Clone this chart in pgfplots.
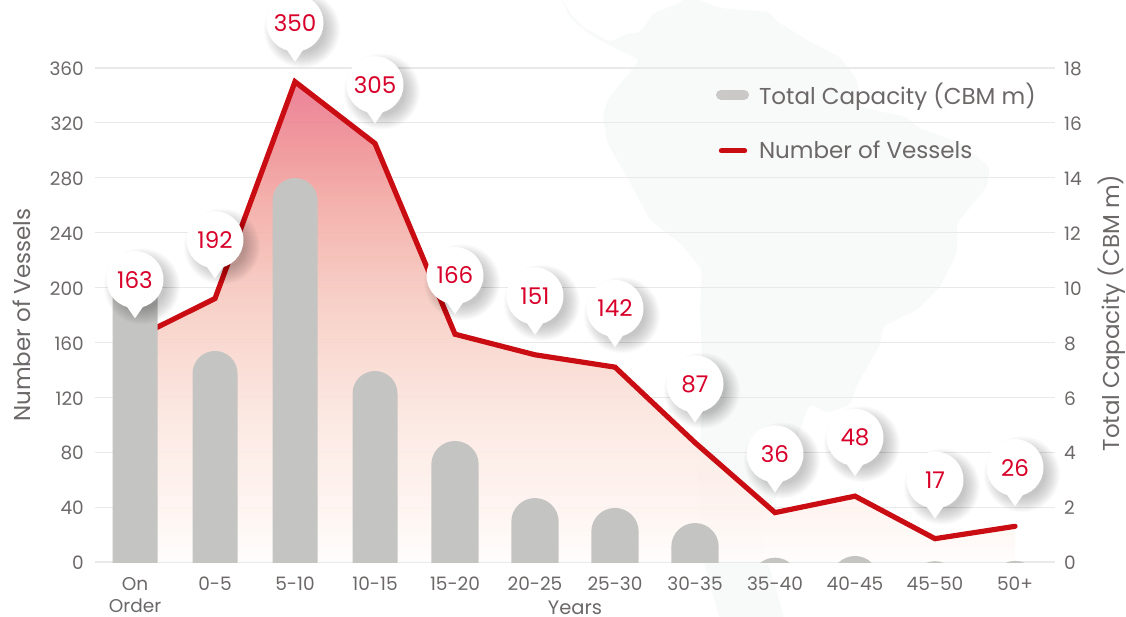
\documentclass[border=0pt]{standalone}
\usepackage{fontspec}
\setmainfont{Poppins}
\usepackage{pgfplots}
\usepackage{pgfplotstable}
\pgfplotsset{compat=1.18}
\definecolor{gridc}{HTML}{E9E9E9}
\definecolor{textc}{HTML}{6C6868}
\definecolor{linec}{HTML}{C90D13}
\definecolor{numc}{HTML}{D8002A}
\definecolor{barc}{HTML}{C4C4C2}
\definecolor{legc}{HTML}{CBC9C8}
\definecolor{mapc}{HTML}{F8F9F9}
\definecolor{g0}{RGB}{255,253,251}
\definecolor{g1}{RGB}{254,242,238}
\definecolor{g2}{RGB}{252,231,224}
\definecolor{g3}{RGB}{246,203,193}
\definecolor{g4}{RGB}{243,168,163}
\definecolor{g5}{RGB}{239,145,148}
\definecolor{g6}{RGB}{235,124,143}
\definecolor{g7}{RGB}{235,120,142}
\pgfdeclareverticalshading{areagrad}{100bp}{
  color(0bp)=(g0);
  color(25bp)=(g0);
  color(31.5bp)=(g1);
  color(39.8bp)=(g2);
  color(52.3bp)=(g3);
  color(62.7bp)=(g4);
  color(67.9bp)=(g5);
  color(73.1bp)=(g6);
  color(75bp)=(g7);
  color(100bp)=(g7)}
\pgfplotstableread{
i vessels capacity
0 163 11
1 192 7.69
2 350 13.99
3 305 6.96
4 166 4.41
5 151 2.33
6 142 1.97
7 87 1.42
8 36 0.157
9 48 0.22
10 17 0.03
11 26 0.04
}\fleet
% rounded bars: dome on the data point, body running down, clipped at the axis
\pgfdeclareplotmark{domeA}{%
  \pgfpathmoveto{\pgfqpoint{-22.5pt}{-22.5pt}}%
  \pgfpatharc{180}{0}{22.5pt}%
  \pgfpathlineto{\pgfqpoint{22.5pt}{-700pt}}%
  \pgfpathlineto{\pgfqpoint{-22.5pt}{-700pt}}%
  \pgfpathclose\pgfusepath{fill}}
\pgfdeclareplotmark{domeB}{%
  \pgfpathmoveto{\pgfqpoint{-23.7pt}{-23.7pt}}%
  \pgfpatharc{180}{0}{23.7pt}%
  \pgfpathlineto{\pgfqpoint{23.7pt}{-700pt}}%
  \pgfpathlineto{\pgfqpoint{-23.7pt}{-700pt}}%
  \pgfpathclose\pgfusepath{fill}}
% speech-bubble marker with a soft shadow
\pgfdeclareplotmark{bubble}{%
  \pgfscope
    \pgfsetfillcolor{black}\pgfsetfillopacity{0.016}%
    \foreach \r in {38,37,36,35,34,33,32,31,30,29,28,27,26,25,24,23}{%
      \pgfpathcircle{\pgfqpoint{7pt}{52pt}}{\r pt}\pgfusepath{fill}}%
  \endpgfscope
  \pgfsetfillcolor{white}%
  \pgfpathcircle{\pgfqpoint{0pt}{58.7pt}}{28.5pt}\pgfusepath{fill}%
  \pgfpathmoveto{\pgfqpoint{-9pt}{33pt}}%
  \pgfpathlineto{\pgfqpoint{0pt}{20pt}}%
  \pgfpathlineto{\pgfqpoint{9pt}{33pt}}%
  \pgfpathclose\pgfusepath{fill}}
\pgfplotsset{
  base/.style={
    scale only axis, width=960pt, height=494pt, at={(0pt,0pt)}, anchor=south west,
    xmin=-0.5, xmax=11.5,
    tick style={draw=none}, major tick length=0pt,
    axis line style={draw=none},
    tick label style={font=\fontsize{18.5}{22}\selectfont, text=textc, /pgf/number format/assume math mode=true},
  }
}
\begin{document}
\begin{tikzpicture}
\path[use as bounding box] (-95pt,-54pt) rectangle (1031pt,562pt);
\clip (-95pt,-54pt) rectangle (1031pt,562pt);
% pale map behind the chart
\begin{scope}[x=1pt,y=-1pt,shift={(-95pt,562pt)}]
\fill[mapc,rounded corners=5pt] (560,-5)--(570,13)--(583,27)--(610,42)--(628,33)--(640,33)--(653,13)--(680,3)--(687,-5)
 --(720,8)--(770,12)--(775,20)--(807,40)--(840,57)--(857,80)--(860,107)--(907,117)--(917,127)--(960,143)--(990,167)--(987,187)
 --(957,223)--(957,253)--(940,287)--(917,310)--(883,326)--(880,345)--(858,383)--(850,405)--(827,413)--(810,404)--(805,415)
 --(790,460)--(775,500)--(757,526)--(767,559)--(785,620)--(720,620)--(703,560)--(697,480)--(703,400)--(700,306)--(702,270)--(680,243)--(650,220)--(627,177)--(607,143)--(603,117)--(607,100)--(640,60)--(615,48)--(590,35)--(570,18)--cycle;
\end{scope}
% first axis: grid, left scale, categories, area and line
\begin{axis}[base,
  ymin=0, ymax=360, ytick={0,40,...,360},
  xtick={0,...,11},
  xticklabels={{On\\Order},0-5,5-10,10-15,15-20,20-25,25-30,30-35,35-40,40-45,45-50,50+},
  xticklabel style={align=center, inner sep=0pt, yshift=-15pt},
  yticklabel style={inner sep=0pt, xshift=-11pt, yshift=-1pt},
  ymajorgrids, grid style={gridc, line width=1.1pt},
  xlabel={Years}, ylabel={Number of Vessels},
  every axis x label/.style={at={(axis description cs:0.5,-0.092)},anchor=center,inner sep=0pt,
    font=\fontsize{19.5}{24}\selectfont, text=textc},
  every axis y label/.style={at={(axis description cs:-0.076,0.5)},rotate=90,anchor=center,
    font=\fontsize{23}{26}\selectfont, text=textc},
]
\addplot[draw=none, shading=areagrad, opacity=0.9] table[x=i,y=vessels]{\fleet} \closedcycle;
\addplot[linec, line width=5.2pt, line join=miter, line cap=round] table[x=i,y=vessels]{\fleet};
\end{axis}
% second axis: right scale, bars
\begin{axis}[base,
  ymin=0, ymax=18, ytick={0,2,...,18},
  axis y line*=right, axis x line=none,
  yticklabel style={inner sep=0pt, xshift=9pt, yshift=-1pt},
  ylabel={Total Capacity (CBM m)},
  every axis y label/.style={at={(axis description cs:1.0594,0.504)},rotate=90,anchor=center,
    font=\fontsize{23}{26}\selectfont, text=textc},
]
\addplot[only marks, mark=domeA, color=barc, clip marker paths=true, restrict x to domain=0:3] table[x=i,y=capacity]{\fleet};
\addplot[only marks, mark=domeB, color=barc, clip marker paths=true, restrict x to domain=4:11] table[x=i,y=capacity]{\fleet};
\end{axis}
% third axis: bubbles and legend
\begin{axis}[base,
  ymin=0, ymax=360, axis lines=none, clip=false,
  legend cell align=left,
  legend style={draw=none, fill=none, at={(axis cs:7.26,349)}, anchor=north west,
    font=\fontsize{23}{26}\selectfont, text=textc, row sep=35pt, column sep=10pt,
    inner sep=0pt, nodes={inner sep=0pt}},
]
\addlegendimage{legend image code/.code={\draw[legc,line width=10pt,line cap=round] (0pt,0pt)--(23pt,0pt);}}
\addlegendentry{Total Capacity (CBM m)}
\addlegendimage{legend image code/.code={\draw[linec,line width=5pt,line cap=round] (0.3pt,0pt)--(23.7pt,0pt);}}
\addlegendentry{Number of Vessels}
\addplot[only marks, mark=bubble, forget plot,
  nodes near coords,
  every node near coord/.append style={anchor=center, yshift=58.7pt, text=numc,
    font=\fontsize{23}{26}\selectfont, inner sep=0pt,
    /pgf/number format/assume math mode=true},
] table[x=i,y=vessels]{\fleet};
\end{axis}
\end{tikzpicture}
\end{document}
